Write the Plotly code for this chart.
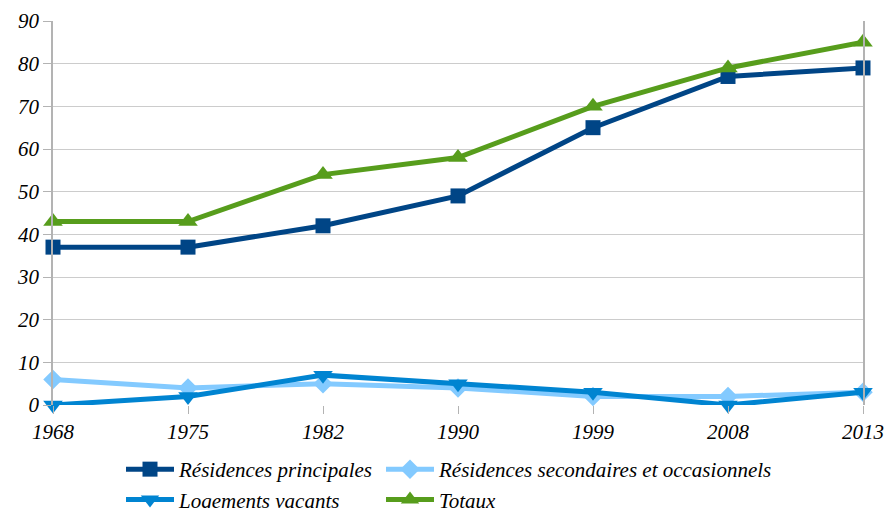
import plotly.graph_objects as go

# Categories and series values
annees = ["1968", "1975", "1982", "1990", "1999", "2008", "2013"]
residences_principales = [37, 37, 42, 49, 65, 77, 79]
residences_secondaires = [6, 4, 5, 4, 2, 2, 3]
logements_vacants = [0, 2, 7, 5, 3, 0, 3]
totaux = [43, 43, 54, 58, 70, 79, 85]
y_ticks = [0, 10, 20, 30, 40, 50, 60, 70, 80, 90]

FONT = "Liberation Serif, Times New Roman, serif"
GRID = "#b3b3b3"

# name, values, colour, marker, size, legend column
series = [
    ("Résidences principales", residences_principales, "#004586", "square", 15, "legend"),
    ("Résidences secondaires et occasionnels", residences_secondaires, "#83caff", "diamond", 15, "legend2"),
    ("Logements vacants", logements_vacants, "#0084d1", "triangle-down", 17, "legend"),
    ("Totaux", totaux, "#579d1c", "triangle-up", 17, "legend2"),
]

fig = go.Figure()
for name, vals, color, symbol, size, leg in series:
    fig.add_trace(go.Scatter(
        x=list(range(len(annees))),
        y=vals,
        name=name,
        mode="lines+markers",
        line=dict(color=color, width=5),
        marker=dict(color=color, symbol=symbol, size=size),
        cliponaxis=False,
        legend=leg,
        legendgroup=name,
    ))

legend_common = dict(
    orientation="v",
    xref="container",
    yref="container",
    yanchor="top",
    y=1 - 449 / 508,
    xanchor="left",
    tracegroupgap=0,
    itemwidth=48,
    bgcolor="rgba(0,0,0,0)",
    font=dict(family=FONT, size=21, style="italic", color="#000000"),
)

fig.update_layout(
    width=885,
    height=508,
    margin=dict(l=53, r=22, t=21, b=103, autoexpand=False),
    paper_bgcolor="white",
    plot_bgcolor="white",
    font=dict(family=FONT, size=21, color="#000000"),
    showlegend=True,
    legend=dict(legend_common, x=121 / 885),
    legend2=dict(legend_common, x=381 / 885),
)

fig.update_xaxes(
    range=[0, 6],
    tickmode="array",
    tickvals=list(range(len(annees))),
    ticktext=annees,
    showgrid=False,
    zeroline=False,
    showline=False,
    ticks="outside",
    ticklen=8,
    tickcolor=GRID,
    automargin=False,
    tickfont=dict(family=FONT, size=21, style="italic"),
)
fig.update_yaxes(
    range=[0, 90],
    tickvals=y_ticks,
    showgrid=True,
    gridcolor="#cccccc",
    gridwidth=1.2,
    zeroline=False,
    showline=True,
    linecolor=GRID,
    linewidth=1.5,
    mirror=True,
    ticks="outside",
    ticklen=8,
    tickcolor=GRID,
    automargin=False,
    tickfont=dict(family=FONT, size=21, style="italic"),
)

# the page body has a default 8px margin; drop it so the figure fills the window
fig.write_html(
    "out.html",
    config={"displayModeBar": False},
    post_script="document.body.style.margin='0';",
)
